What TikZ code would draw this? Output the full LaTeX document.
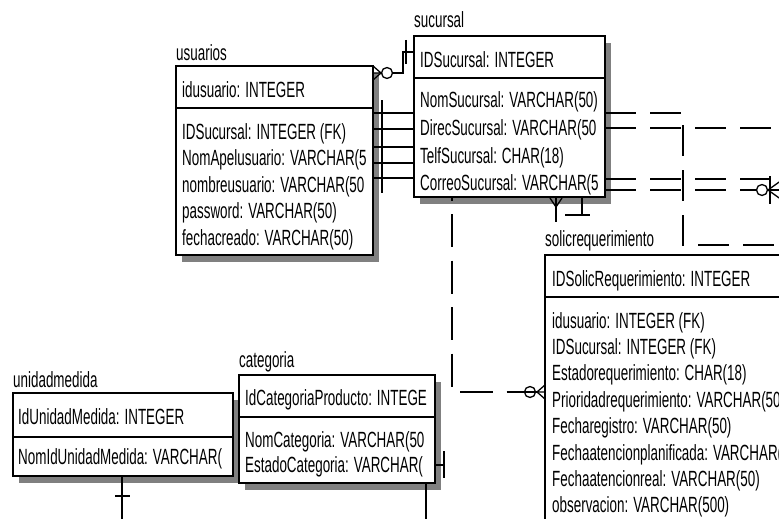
\documentclass[tikz,border=0pt]{standalone}
\usepackage{fontspec}
\newfontfamily\erfont[FakeStretch=0.61]{Liberation Sans}
\usetikzlibrary{calc}
\newcommand\erbox[6]{%
  \fill[shadowc] (#2+6,#3+7) rectangle (#2+#4+6,#3+#5+7);
  \node[ent, minimum width=#4pt, minimum height=#5pt, anchor=north west] (#1) at (#2,#3) {};
  \draw[entline] (#2,#6) -- (#2+#4,#6);
}
\newcommand\ertxt[4]{\node[txt] (#1) at (#2,#3) {#4};}
\begin{document}
\begin{tikzpicture}[x=1pt,y=-1pt,
  ent/.style={draw=black, line width=1.3pt, fill=white, inner sep=0pt, outer sep=0pt},
  entline/.style={line width=1.3pt},
  shadowc/.style={fill=black!50},
  txt/.style={anchor=base west, inner sep=0pt, font=\erfont\fontsize{22}{26}\selectfont},
  conn/.style={line width=1.3pt},
  dconn/.style={conn, dash pattern=on 31pt off 14pt}]
\useasboundingbox (0,0) rectangle (779,519);
\fill[white] (0,0) rectangle (779,519);

% ---- entities ----
\erbox{usuarios}{176}{66}{197}{189}{108}
\erbox{sucursal}{414}{36}{191}{161}{78}
\erbox{solic}{545}{255}{300}{300}{297}
\erbox{unidad}{13}{393}{220}{83}{437}
\erbox{categoria}{239}{375}{196}{108}{417}

% ---- labels ----
\ertxt{lusu}{176}{60}{usuarios}
\ertxt{lsuc}{414}{28}{sucursal}
\ertxt{lsol}{545}{246}{solicrequerimiento}
\ertxt{luni}{13}{387}{unidadmedida}
\ertxt{lcat}{239}{367}{categoria}

% ---- usuarios text ----
\begin{scope}
\clip (176,66) rectangle (373,255);
\ertxt{u0}{182}{97}{idusuario: INTEGER}
\ertxt{u1}{182}{139}{IDSucursal: INTEGER (FK)}
\ertxt{u2}{182}{165.5}{NomApelusuario: VARCHAR(5}
\ertxt{u3}{182}{192}{nombreusuario: VARCHAR(50}
\ertxt{u4}{182}{218.5}{password: VARCHAR(50)}
\ertxt{u5}{182}{245}{fechacreado: VARCHAR(50)}
\end{scope}

% ---- sucursal text ----
\begin{scope}
\clip (414,36) rectangle (605,197);
\ertxt{s0}{420}{67}{IDSucursal: INTEGER}
\ertxt{s1}{420}{107}{NomSucursal: VARCHAR(50)}
\ertxt{s2}{420}{135}{DirecSucursal: VARCHAR(50}
\ertxt{s3}{420}{163}{TelfSucursal: CHAR(18)}
\ertxt{s4}{420}{190}{CorreoSucursal: VARCHAR(5}
\end{scope}

% ---- solicrequerimiento text ----
\ertxt{r0}{552}{286}{IDSolicRequerimiento: INTEGER}
\ertxt{r1}{552}{328}{idusuario: INTEGER (FK)}
\ertxt{r2}{552}{354.4}{IDSucursal: INTEGER (FK)}
\ertxt{r3}{552}{380.8}{Estadorequerimiento: CHAR(18)}
\ertxt{r4}{552}{407.2}{Prioridadrequerimiento: VARCHAR(50)}
\ertxt{r5}{552}{433.6}{Fecharegistro: VARCHAR(50)}
\ertxt{r6}{552}{460}{Fechaatencionplanificada: VARCHAR(50)}
\ertxt{r7}{552}{486.4}{Fechaatencionreal: VARCHAR(50)}
\ertxt{r8}{552}{512.8}{observacion: VARCHAR(500)}

% ---- unidadmedida text ----
\begin{scope}
\clip (13,393) rectangle (233,476);
\ertxt{m0}{18}{424}{IdUnidadMedida: INTEGER}
\ertxt{m1}{18}{464}{NomIdUnidadMedida: VARCHAR(}
\end{scope}

% ---- categoria text ----
\begin{scope}
\clip (239,375) rectangle (435,483);
\ertxt{c0}{245}{405}{IdCategoriaProducto: INTEGE}
\ertxt{c1}{245}{447}{NomCategoria: VARCHAR(50}
\ertxt{c2}{245}{472}{EstadoCategoria: VARCHAR(}
\end{scope}

% ---- usuarios -- sucursal (top) ----
\draw[conn] (sucursal.west |- 0,52) -- (403,52) -- (403,73) -- (392.5,73);
\draw[conn] (387,73) circle (5.5);
\draw[conn] (usuarios.east |- 0,66) -- (381,73) -- (usuarios.east |- 0,73);
\draw[conn] (381,73) -- (usuarios.east |- 0,80);
\draw[conn] (406,40) -- (406,64);

% ---- parallel lines usuarios | sucursal ----
\foreach \yy in {113,129,147,163,178}
  \draw[conn] (usuarios.east |- 0,\yy) -- (sucursal.west |- 0,\yy);
\draw[conn] (382,100) -- (382,193);

% ---- dashed lines to the right ----
\draw[dconn] (sucursal.east |- 0,113) -- (683,113) -- (683,245) -- (800,245);
\draw[dconn] (sucursal.east |- 0,128) -- (800,128);
\draw[dconn] (sucursal.east |- 0,179) -- (800,179);
\draw[dconn] (sucursal.east |- 0,190) -- (756.5,190);
\draw[conn] (762,190) circle (5.5);
\draw[conn] (768,190) -- (785,190);
\draw[conn] (768,190) -- (782,180);
\draw[conn] (768,190) -- (782,200);
\draw[conn] (770,176) -- (770,204);

% ---- sucursal -> solicrequerimiento (dashed L) ----
\draw[conn, dash pattern=on 33pt off 13.5pt, dash phase=29.5pt]
  (sucursal.south -| 452,0) -- (452,392) -- (523,392);
\draw[conn] (523,392) -- (537,392);
\draw[conn] (530,392) circle (5.5);
\draw[conn] (solic.west |- 0,385) -- (537,392) -- (solic.west |- 0,392);
\draw[conn] (537,392) -- (solic.west |- 0,399);

% ---- marks under sucursal ----
\draw[conn] (sucursal.south -| 582,0) -- (582,215);
\draw[conn] (565,215) -- (590,215);
\draw[conn] (sucursal.south -| 556,0) -- (556,222);
\draw[conn] (550,198) -- (556,207) -- (562,198);

% ---- categoria marks ----
\draw[conn] (categoria.east |- 0,465) -- (444,465);
\draw[conn] (444,451) -- (444,478);
\draw[conn] (categoria.south -| 426,0) -- (426,525);

% ---- unidadmedida marks ----
\draw[conn] (unidad.south -| 122,0) -- (122,525);
\draw[conn] (115,496) -- (130,496);
\end{tikzpicture}
\end{document}
